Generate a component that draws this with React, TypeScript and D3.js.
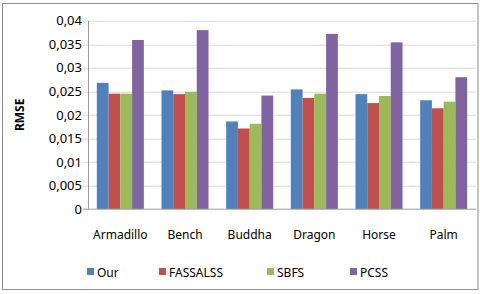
import { useEffect, useRef } from 'react';
import * as d3 from 'd3';

const categories = ['Armadillo', 'Bench', 'Buddha', 'Dragon', 'Horse', 'Palm'];
const seriesNames = ['Our', 'FASSALSS', 'SBFS', 'PCSS'];
const our = [0.0268, 0.0252, 0.0186, 0.0254, 0.0244, 0.0231];
const fassalss = [0.0245, 0.0244, 0.0171, 0.0236, 0.0225, 0.0214];
const sbfs = [0.0245, 0.0249, 0.0181, 0.0245, 0.024, 0.0228];
const pcss = [0.0359, 0.038, 0.0241, 0.0372, 0.0354, 0.028];
const yTicks = [0, 0.005, 0.01, 0.015, 0.02, 0.025, 0.03, 0.035, 0.04];
const colors = ['#4F81BD', '#C0504D', '#9BBB59', '#8064A2'];

const W = 480;
const H = 294;
const FONT = 'Noto Sans, sans-serif';

export default function App() {
  const ref = useRef<SVGSVGElement>(null);

  useEffect(() => {
    document.body.style.margin = '0';
    const svg = d3.select(ref.current);
    svg.selectAll('*').remove();

    const margin = { top: 20.7, right: 4, bottom: 85, left: 88 };
    const w = W - margin.left - margin.right;
    const h = 209 - margin.top;
    const series = [our, fassalss, sbfs, pcss];

    // chart frame
    svg.append('rect').attr('x', 2.5).attr('y', 3.5).attr('width', 475.5).attr('height', 286)
      .attr('fill', '#fff').attr('stroke', '#8c8c8c').attr('stroke-width', 1);

    const x = d3.scaleBand().domain(categories).range([0, w]);
    const bw = x.bandwidth() / 5.5;
    const y = d3.scaleLinear().domain([0, 0.04]).range([h, 0]);

    const g = svg.append('g').attr('transform', `translate(${margin.left},${margin.top})`);

    // gridlines (with the little outside tick on the left)
    g.selectAll('line.grid').data(yTicks.slice(1)).join('line').attr('class', 'grid')
      .attr('x1', -5).attr('x2', w).attr('y1', (d) => Math.round(y(d)) + 0.5).attr('y2', (d) => Math.round(y(d)) + 0.5)
      .attr('stroke', '#d9d9d9');

    // bars
    series.forEach((vals, si) => {
      g.selectAll(`rect.s${si}`).data(vals).join('rect').attr('class', `s${si}`)
        .attr('x', (d, i) => x(categories[i])! + 0.75 * bw + si * bw)
        .attr('y', (d) => y(d))
        .attr('width', bw)
        .attr('height', (d) => h - y(d))
        .attr('fill', colors[si]);
    });

    // axes
    g.append('line').attr('x1', 0.5).attr('x2', 0.5).attr('y1', 0).attr('y2', h).attr('stroke', '#9a9a9a');
    g.append('line').attr('x1', -5).attr('x2', w).attr('y1', Math.round(h) + 0.5).attr('y2', Math.round(h) + 0.5).attr('stroke', '#9a9a9a');

    g.selectAll('text.yl').data(yTicks).join('text').attr('class', 'yl')
      .attr('x', -6).attr('y', (d) => y(d)).attr('dy', '0.36em')
      .attr('text-anchor', 'end').attr('font-family', FONT).attr('font-size', 13).attr('fill', '#000')
      .text((d) => (d === 0 ? '0' : d3.format('.3~f')(d).replace('.', ',')));

    g.selectAll('text.xl').data(categories).join('text').attr('class', 'xl')
      .attr('x', (d) => x(d)! + x.bandwidth() / 2).attr('y', h + 30)
      .attr('text-anchor', 'middle').attr('font-family', FONT).attr('font-size', 12).attr('fill', '#000')
      .text((d) => d);

    svg.append('text')
      .attr('transform', `translate(24,${margin.top + h / 2}) rotate(-90)`)
      .attr('text-anchor', 'middle').attr('font-family', FONT).attr('font-size', 12).attr('font-weight', 'bold')
      .text('RMSE');

    // legend
    const legendX = [87, 159, 267, 350];
    seriesNames.forEach((name, i) => {
      svg.append('rect').attr('x', legendX[i]).attr('y', 268).attr('width', 7).attr('height', 7).attr('fill', colors[i]);
      svg.append('text').attr('x', legendX[i] + 10).attr('y', 276.5)
        .attr('font-family', FONT).attr('font-size', 12).text(name);
    });
  }, []);

  return <svg ref={ref} width={W} height={H} style={{ display: 'block' }} />;
}
